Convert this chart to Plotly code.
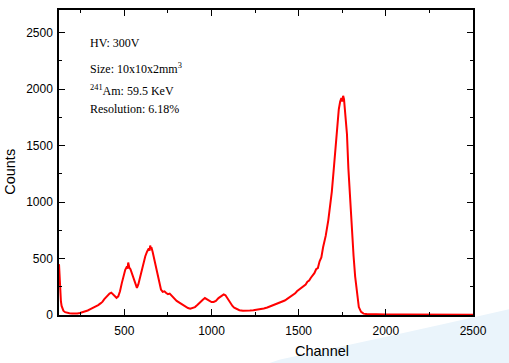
import plotly.graph_objects as go

channel = [125, 128, 132, 136, 140, 145, 150, 160, 170, 185, 200, 215, 230, 245, 260, 275, 290,
           305, 320, 335, 350, 365, 375, 385, 395, 405, 415, 425, 435, 445, 455, 465, 475, 485,
           495, 505, 515, 519, 522, 525, 528, 535, 545, 555, 565, 572, 580, 590, 600, 610, 620, 630, 640,
           645, 648, 652, 655, 662, 670, 680, 690, 700, 710, 720, 730, 740, 750, 760, 770, 780, 790, 800,
           820, 835, 850, 865, 878, 890, 905, 920, 935, 950, 962, 975, 988, 1000, 1012, 1025,
           1040, 1055, 1070, 1080, 1090, 1100, 1110, 1120, 1130, 1145, 1160, 1180, 1200, 1220,
           1240, 1260, 1280, 1300, 1320, 1340, 1360, 1380, 1400, 1410, 1420, 1430, 1440, 1450, 1460,
           1470, 1480, 1490, 1500, 1510, 1520, 1530, 1540, 1550, 1560, 1570, 1580, 1590, 1600, 1610,
           1620, 1630, 1640, 1655, 1670, 1680, 1690, 1700, 1710, 1720,
           1730, 1738, 1745, 1750, 1755, 1760, 1765, 1770, 1777, 1785, 1795, 1805, 1815, 1824,
           1834, 1845, 1858, 1872, 1890, 1920, 2000, 2100, 2200, 2300, 2400, 2500]
counts = [450, 330, 200, 120, 80, 55, 38, 25, 20, 16, 14, 12, 14, 18, 24, 30, 40,
          52, 62, 75, 88, 105, 118, 140, 160, 175, 190, 198, 185, 165, 152, 165, 210, 280,
          350, 400, 430, 410, 465, 430, 420, 405, 360, 300, 255, 240, 270, 330, 400, 470, 520, 560, 590,
          570, 615, 590, 600, 560, 500, 440, 370, 290, 225, 205, 210, 195, 185, 190, 175, 155, 140, 125,
          105, 90, 75, 62, 56, 60, 70, 90, 115, 135, 150, 140, 125, 115, 115, 125,
          150, 170, 182, 175, 150, 125, 100, 80, 65, 50, 42, 38, 36, 40,
          42, 46, 52, 58, 66, 78, 88, 100, 112, 122, 128, 138, 148, 160, 168,
          180, 192, 210, 222, 240, 246, 262, 270, 295, 305, 330, 352, 370, 405, 415,
          475, 510, 600, 700, 840, 960, 1090, 1270, 1450, 1650,
          1820, 1890, 1920, 1890, 1940, 1910, 1830, 1720, 1600, 1300, 1000, 760, 520, 340,
          180, 70, 28, 12, 8, 6, 5, 5, 4, 4, 3, 3]

x_ticks = [500, 1000, 1500, 2000, 2500]
y_ticks = [0, 500, 1000, 1500, 2000, 2500]
minor_ticks = [250, 750, 1250, 1750, 2250]

info_lines = ["HV: 300V", "Size: 10x10x2mm<sup>3</sup>", "<sup>241</sup>Am: 59.5 KeV", "Resolution: 6.18%"]
info_y = [0.892, 0.807, 0.736, 0.676]

fig = go.Figure()
fig.add_trace(go.Scatter(x=channel, y=counts, mode="lines",
                         line=dict(color="#ff0000", width=2), showlegend=False))

axis_common = dict(showline=True, linecolor="black", linewidth=1.5, mirror="ticks",
                   ticks="inside", ticklen=6, tickwidth=1.2, tickcolor="black",
                   showgrid=False, zeroline=False,
                   tickfont=dict(family="Liberation Sans, Arial", size=12, color="black"))

fig.update_xaxes(range=[125, 2500], tickvals=x_ticks,
                 minor=dict(tickvals=minor_ticks, ticks="inside", ticklen=3,
                            tickcolor="black", tickwidth=1),
                 ticklabelstandoff=4, **axis_common)
fig.update_yaxes(range=[0, 2700], tickvals=y_ticks,
                 minor=dict(tickvals=minor_ticks, ticks="inside", ticklen=3,
                            tickcolor="black", tickwidth=1),
                 ticklabelstandoff=2, **axis_common)

title_font = dict(family="Liberation Sans, Arial", size=14.5, color="black")
fig.add_annotation(x=0.635, y=-0.119, xref="paper", yref="paper", text="Channel", showarrow=False,
                   xanchor="center", yanchor="middle", font=title_font)
fig.add_annotation(x=-0.118, y=0.47, xref="paper", yref="paper", text="Counts", showarrow=False,
                   textangle=-90, xanchor="center", yanchor="middle", font=title_font)

for txt, yy in zip(info_lines, info_y):
    fig.add_annotation(x=0.07, y=yy, xref="paper", yref="paper", text=txt, showarrow=False,
                       xanchor="left", yanchor="middle",
                       font=dict(family="Liberation Serif, Times New Roman", size=12, color="black"))

fig.add_shape(type="path", xref="paper", yref="paper", layer="below",
              path="M 0.48,-0.17 L 0.534,-0.146 Q 0.80,-0.07 1.09,0.02 L 1.09,-0.17 Z",
              fillcolor="#eaf4fb", line=dict(width=0))

fig.update_layout(width=509, height=363, margin=dict(l=59, r=36, t=10, b=48, autoexpand=False),
                  paper_bgcolor="white", plot_bgcolor="white")

fig.write_html("out.html", config={"displayModeBar": False},
               post_script="document.body.style.margin='0px';")
